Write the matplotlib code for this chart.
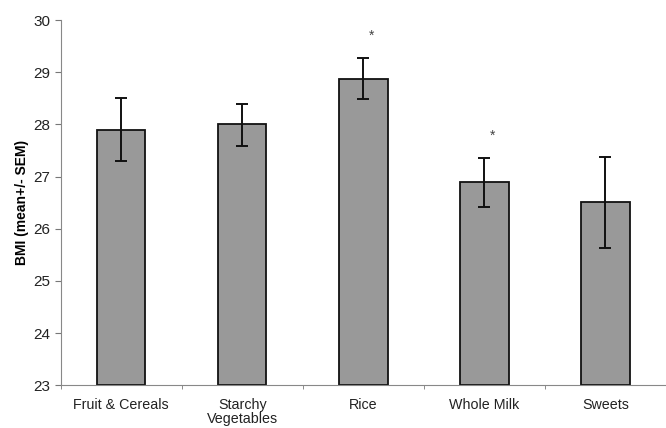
import matplotlib
matplotlib.use("Agg")
import matplotlib.pyplot as plt
import numpy as np

plt.rcParams["font.family"] = ["Liberation Sans", "DejaVu Sans"]

categories = ["Fruit & Cereals", "Starchy\nVegetables", "Rice", "Whole Milk", "Sweets"]
bmi_mean = [27.90, 28.00, 28.88, 26.90, 26.51]
err_low = [27.29, 27.58, 28.48, 26.41, 25.64]
err_high = [28.50, 28.39, 29.28, 27.36, 27.38]
significant = [False, False, True, True, False]

fig = plt.figure(figsize=(6.66, 4.28), dpi=100)
ax = fig.add_axes([0.091, 0.10, 0.909, 0.853])

x = np.arange(len(categories))
mean = np.array(bmi_mean)
yerr = [mean - np.array(err_low), np.array(err_high) - mean]

ax.bar(x, mean - 23, bottom=23, width=0.4, color="#999999",
       edgecolor="#111111", linewidth=1.3, zorder=2)
ax.errorbar(x, mean, yerr=yerr, fmt="none", ecolor="#111111",
            elinewidth=1.4, capsize=4, capthick=1.4, zorder=3)

# significance markers above the error bars
for xi, top, sig in zip(x, err_high, significant):
    if sig:
        ax.text(xi + 0.07, top + 0.42, "*", ha="center", va="center",
                fontsize=10, color="#444444")

ax.set_xlim(-0.5, 4.5)
ax.set_ylim(23, 30)
ax.set_yticks(range(23, 31))
ax.set_xticks(x)
ax.set_xticklabels(categories, fontsize=10.3, color="#222222", linespacing=1.05)
ax.set_xticks(np.arange(-0.5, 5.0, 1.0), minor=True)
ax.tick_params(axis="x", which="major", length=0, pad=9)
ax.tick_params(axis="x", which="minor", length=3, color="#777777", direction="out")
ax.tick_params(axis="y", length=4, color="#777777", labelsize=11, labelcolor="#222222")

for side in ["top", "right"]:
    ax.spines[side].set_visible(False)
for side in ["left", "bottom"]:
    ax.spines[side].set_color("#888888")
    ax.spines[side].set_linewidth(0.8)

ax.set_ylabel("BMI (mean+/- SEM)", fontsize=10, fontweight="bold", labelpad=3)

fig.savefig("out.png", dpi=100)
